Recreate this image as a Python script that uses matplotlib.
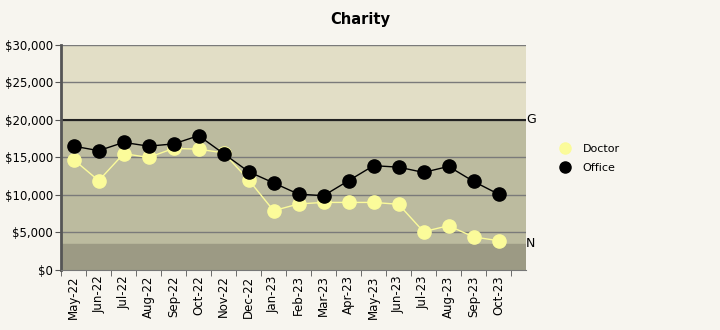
import matplotlib

matplotlib.use("Agg")
import matplotlib.pyplot as plt  # noqa: E402
from matplotlib.lines import Line2D  # noqa: E402
from matplotlib.ticker import FuncFormatter  # noqa: E402

months = ["May-22", "Jun-22", "Jul-22", "Aug-22", "Sep-22", "Oct-22", "Nov-22",
          "Dec-22", "Jan-23", "Feb-23", "Mar-23", "Apr-23", "May-23", "Jun-23",
          "Jul-23", "Aug-23", "Sep-23", "Oct-23"]
doctor = [14700, 11900, 15500, 15000, 16200, 16100, 15600, 12000, 7900, 8800,
          9000, 9000, 9000, 8750, 5100, 5900, 4400, 3900]
office = [16500, 15900, 17000, 16500, 16800, 17900, 15500, 13100, 11600, 10100,
          9900, 11900, 13900, 13700, 13000, 13800, 11800, 10100]
goal_level = 20000
need_level = 3500
y_max = 30000

BG = "#f7f5ef"
fig = plt.figure(figsize=(7.2, 3.3), dpi=100, facecolor=BG)
ax = fig.add_axes((0.085, 0.182, 0.6456, 0.682))
ax.set_facecolor(BG)

x = list(range(len(months)))
ax.set_xlim(-0.5, 18.1)
ax.set_ylim(0, y_max)

# background bands
ax.axhspan(goal_level, y_max, color="#e2dec6", zorder=0)
ax.axhspan(need_level, goal_level, color="#bcbb9f", zorder=0)
ax.axhspan(0, need_level, color="#9c9a84", zorder=0)

for v in range(5000, y_max + 1, 5000):
    ax.axhline(v, color="#7a7a7a", lw=1.0, zorder=1)
ax.axhline(goal_level, color="#222222", lw=1.5, zorder=1)

ax.plot(x, doctor, color="#fbfb9a", lw=1, marker="o", ms=9.5, zorder=3)
ax.plot(x, office, color="black", lw=1, marker="o", ms=9.5, zorder=4)

ax.set_yticks(range(0, y_max + 1, 5000))
ax.yaxis.set_major_formatter(FuncFormatter(lambda v, _: f"${v:,.0f}"))
ax.set_xticks(x, labels=months, rotation=90)
ax.set_xticks([i - 0.5 for i in range(len(months) + 1)], minor=True)
ax.tick_params(axis="x", which="major", length=0, pad=4, labelsize=8.5)
ax.tick_params(axis="x", which="minor", length=4, color="#555555")
ax.tick_params(axis="y", length=4, pad=2, color="#555555", labelsize=8.5)

for s in ("top", "right"):
    ax.spines[s].set_visible(False)
ax.spines["left"].set_color("#555555")
ax.spines["left"].set_linewidth(2)
ax.spines["bottom"].set_color("#777777")

ax.text(1.0, goal_level, "G", transform=ax.get_yaxis_transform(), va="center",
        ha="left", fontsize=9)
ax.text(1.0, need_level, "N", transform=ax.get_yaxis_transform(), va="center",
        ha="left", fontsize=9)

fig.text(0.5, 0.94, "Charity", ha="center", va="center", fontsize=10.5,
         fontweight="semibold")

handles = [
    Line2D([], [], ls="none", marker="o", ms=8, color="#fbfb9a"),
    Line2D([], [], ls="none", marker="o", ms=8, color="black"),
]
fig.legend(handles, ["Doctor", "Office"], loc="center left",
           bbox_to_anchor=(0.755, 0.52), frameon=False, fontsize=8,
           handletextpad=0.6, labelspacing=0.8)

fig.savefig("out.png", dpi=100, facecolor=BG)
